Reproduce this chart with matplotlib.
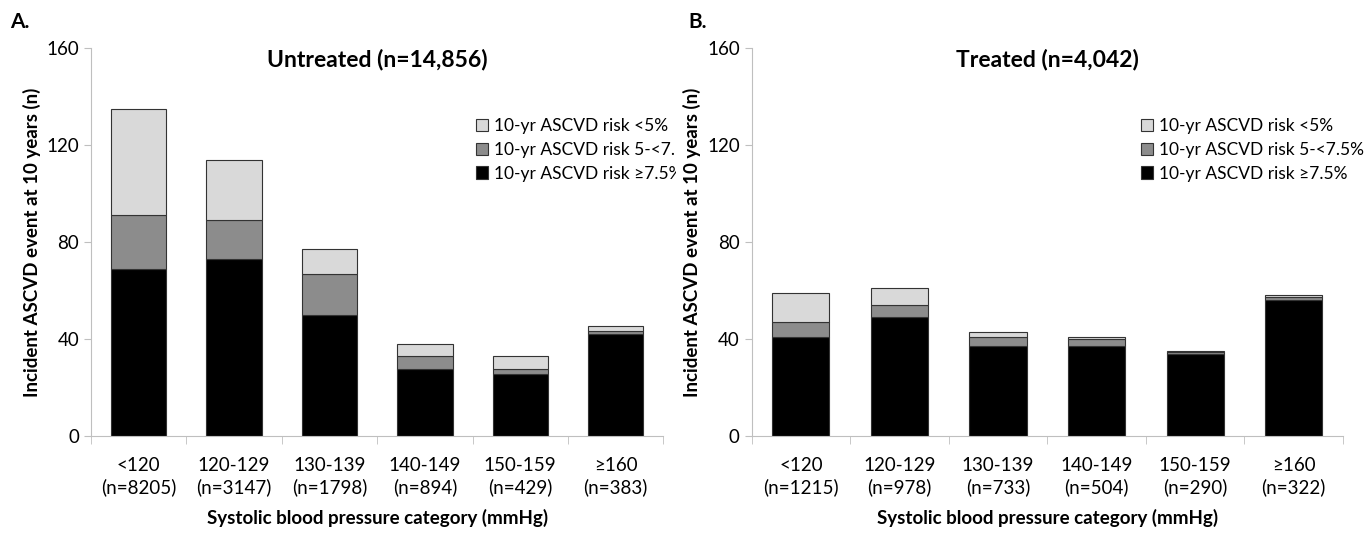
import matplotlib
matplotlib.use("Agg")
import matplotlib.pyplot as plt
from matplotlib.transforms import Bbox
import numpy as np

plt.rcParams['font.family'] = ['Lato', 'DejaVu Sans']

categories = ["<120", "120-129", "130-139", "140-149", "150-159", "≥160"]
n_untreated = [8205, 3147, 1798, 894, 429, 383]
n_treated = [1215, 978, 733, 504, 290, 322]

# stacked segments: risk >=7.5%, 5-<7.5%, <5%
untreated_high = [69, 73, 50, 27.5, 25.5, 42]
untreated_mid = [22, 16, 17, 5.5, 2, 1.5]
untreated_low = [44, 25, 10, 5, 5.5, 1.8]

treated_high = [41, 49, 37, 37, 34, 56]
treated_mid = [6, 5, 4, 3, 0.6, 1.4]
treated_low = [12, 7, 2, 1, 0.6, 0.6]

labels = ["10-yr ASCVD risk <5%", "10-yr ASCVD risk 5-<7.5%", "10-yr ASCVD risk ≥7.5%"]
colors = ["#d9d9d9", "#8c8c8c", "#000000"]

fig = plt.figure(figsize=(13.69, 5.35), dpi=100)
axA = fig.add_axes([0.0665, 0.185, 0.418, 0.725])
axB = fig.add_axes([0.549, 0.185, 0.432, 0.725])


def draw_panel(ax, high, mid, low, ns, title):
    x = np.arange(len(categories))
    ax.bar(x, high, 0.58, color=colors[2], edgecolor="#333333", linewidth=0.8, label=labels[2])
    ax.bar(x, mid, 0.58, bottom=high, color=colors[1], edgecolor="#333333", linewidth=0.8, label=labels[1])
    ax.bar(x, low, 0.58, bottom=np.array(high) + np.array(mid), color=colors[0],
           edgecolor="#333333", linewidth=0.8, label=labels[0])
    ax.set_xlim(-0.5, len(categories) - 0.5)
    ax.set_ylim(0, 160)
    ax.set_yticks([0, 40, 80, 120, 160])
    ax.set_xticks(x)
    ax.set_xticklabels([f"{c}\n(n={n})" for c, n in zip(categories, ns)], fontsize=13.5, linespacing=1.3)
    ax.set_xticks(np.arange(-0.5, len(categories)), minor=True)
    ax.tick_params(axis="x", which="major", length=0, pad=15)
    ax.tick_params(axis="x", which="minor", length=6, color="#bfbfbf")
    ax.tick_params(axis="y", labelsize=13.5, length=5, color="#bfbfbf")
    for s in ["top", "right"]:
        ax.spines[s].set_visible(False)
    for s in ["left", "bottom"]:
        ax.spines[s].set_color("#bfbfbf")
    ax.set_ylabel("Incident ASCVD event at 10 years (n)", fontsize=13.5, fontweight="bold", labelpad=4)
    ax.set_xlabel("Systolic blood pressure category (mmHg)", fontsize=13.5, fontweight="bold", labelpad=9)
    ax.text(0.5, 0.972, title, transform=ax.transAxes, ha="center", va="center",
            fontsize=16.5, fontweight="bold")
    h, l = ax.get_legend_handles_labels()
    return h[::-1], l[::-1]


leg_kw = dict(loc="upper left", frameon=False, fontsize=12.5, handlelength=0.7, handleheight=0.7,
              handletextpad=0.3, labelspacing=0.45, borderaxespad=0)

h, l = draw_panel(axA, untreated_high, untreated_mid, untreated_low, n_untreated, "Untreated (n=14,856)")
legA = axA.legend(h, l, bbox_to_anchor=(0.661, 0.838), **leg_kw)
h, l = draw_panel(axB, treated_high, treated_mid, treated_low, n_treated, "Treated (n=4,042)")
axB.legend(h, l, bbox_to_anchor=(0.647, 0.838), **leg_kw)

# panel A legend is cut at the panel edge in the original
clip = Bbox.from_extents(0, 0, 676, 535)
for t in legA.get_texts():
    t.set_clip_box(clip)
    t.set_clip_on(True)

fig.text(10 / 1369, 1 - 22 / 535, "A.", fontsize=15, fontweight="bold", va="center")
fig.text(688 / 1369, 1 - 22 / 535, "B.", fontsize=15, fontweight="bold", va="center")

fig.savefig("out.png", dpi=100)
